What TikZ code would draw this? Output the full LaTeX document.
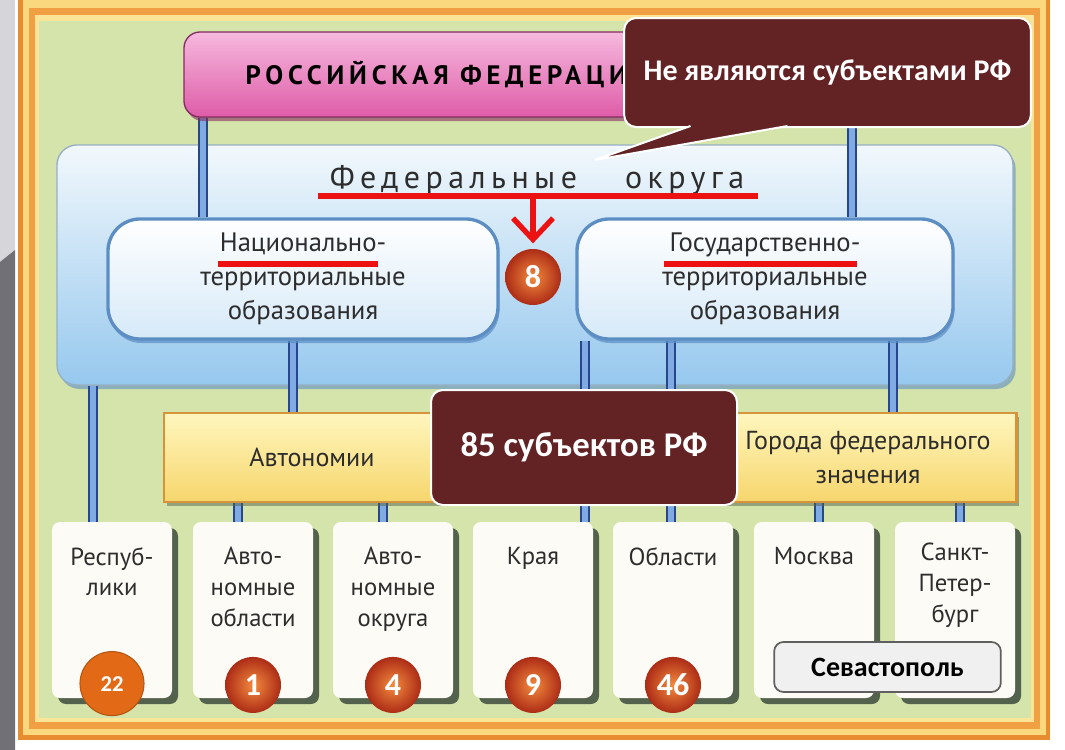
\documentclass[tikz,border=0pt]{standalone}
\usepackage{fontspec}
\setmainfont{PT Sans}
\newfontfamily\calibrifont{Carlito}
\newfontfamily\spacedfont[LetterSpace=17]{PT Sans}
\newfontfamily\titlefont[LetterSpace=18]{PT Sans}
\usetikzlibrary{positioning,shadows,arrows.meta,calc}
\pgfdeclarelayer{back}
\pgfdeclarelayer{rods}
\pgfsetlayers{back,rods,main}
\definecolor{stripgray}{RGB}{214,214,218}
\definecolor{stripdark}{RGB}{112,112,118}
\definecolor{framedark}{RGB}{232,140,48}
\definecolor{frameyel}{RGB}{250,216,125}
\definecolor{frameorg}{RGB}{240,160,66}
\definecolor{framepale}{RGB}{252,228,150}
\definecolor{fieldgreen}{RGB}{213,228,170}
\definecolor{pinktop}{RGB}{246,185,222}
\definecolor{pinkbot}{RGB}{222,92,168}
\definecolor{pinkline}{RGB}{130,45,95}
\definecolor{skytop}{RGB}{242,248,252}
\definecolor{skybot}{RGB}{150,200,238}
\definecolor{skyline}{RGB}{150,175,195}
\definecolor{capfill}{RGB}{214,233,248}
\definecolor{capline}{RGB}{92,142,196}
\definecolor{yeltop}{RGB}{255,246,190}
\definecolor{yelbot}{RGB}{246,214,108}
\definecolor{yelline}{RGB}{214,148,58}
\definecolor{cardfill}{RGB}{252,251,246}
\definecolor{cardshadow}{RGB}{82,98,76}
\definecolor{pillarline}{RGB}{40,70,140}
\definecolor{pillarfill}{RGB}{128,170,226}
\definecolor{maroon}{RGB}{99,35,37}
\definecolor{inkgray}{RGB}{45,45,45}
\definecolor{flatorange}{RGB}{226,106,22}
\definecolor{balllight}{RGB}{244,138,62}
\definecolor{balldark}{RGB}{172,44,22}
\definecolor{markred}{RGB}{236,18,18}
\definecolor{sevfill}{RGB}{240,240,240}
\definecolor{sevline}{RGB}{95,95,95}
\begin{document}
\begin{tikzpicture}[x=0.75pt,y=-0.75pt,
  pillar/.style={draw=pillarline, line width=1.8pt, double=pillarfill, double distance=4.5pt},
  pinkbox/.style={draw=pinkline, line width=1pt, rounded corners=12pt, top color=pinktop, bottom color=pinkbot,
    minimum width=514.5pt, minimum height=63.75pt, drop shadow={shadow xshift=2pt, shadow yshift=-3pt, fill=pinkline, opacity=0.6}},
  skybox/.style={draw=skyline, line width=1pt, rounded corners=15pt, top color=skytop, bottom color=skybot,
    minimum width=717pt, minimum height=180pt, drop shadow={shadow xshift=2pt, shadow yshift=-3pt, fill=capline, opacity=0.6}},
  capsule/.style={draw=capline, line width=2.5pt, rounded corners=24pt, top color=white, bottom color=capfill,
    minimum height=90pt, align=center, text=inkgray, font=\fontsize{20}{25.5}\selectfont,
    drop shadow={shadow xshift=1pt, shadow yshift=-3pt, fill=capline, opacity=0.7}},
  yelbox/.style={draw=yelline, line width=2pt, top color=yeltop, bottom color=yelbot, minimum height=66.75pt,
    align=center, text=inkgray, font=\fontsize{19.5}{25}\selectfont,
    drop shadow={shadow xshift=2pt, shadow yshift=-3pt, fill=cardshadow, opacity=0.5}},
  card/.style={fill=cardfill, rounded corners=6pt, minimum width=90pt, minimum height=132pt,
    drop shadow={shadow xshift=4.5pt, shadow yshift=-4.5pt, fill=cardshadow, opacity=1}},
  cardtext/.style={align=center, inner sep=0pt, text=inkgray, font=\fontsize{18.5}{23}\selectfont},
  ball/.style={circle, minimum size=42pt, inner sep=0pt, inner color=balllight, outer color=balldark,
    text=white, font=\calibrifont\bfseries\fontsize{24}{24}\selectfont},
  flatball/.style={circle, minimum size=48pt, inner sep=0pt, fill=flatorange, draw=flatorange!80!black,
    line width=0.8pt, text=white, font=\calibrifont\bfseries\fontsize{17}{17}\selectfont},
  note/.style={fill=maroon, draw=white, line width=1.5pt, rounded corners=9pt, text=white},
  notetail/.style={fill=maroon, draw=white, line width=1.5pt},
  sevbox/.style={fill=sevfill, draw=sevline, line width=1.3pt, rounded corners=7pt, minimum width=170pt,
    minimum height=37.5pt, text=black, font=\calibrifont\bfseries\fontsize{21}{21}\selectfont},
  redmark/.style={draw=markred, line width=4pt}]
\useasboundingbox (0,0) rectangle (1065,750);
\begin{pgfonlayer}{back}
\fill[white] (0,0) rectangle (1065,750);
\fill[stripgray] (0,0) rectangle (15,750);
\fill[stripdark] (0,262) -- (15,250) -- (15,750) -- (0,750) -- cycle;
\fill[framedark] (18,-5) rectangle (1050,740);
\fill[frameyel] (23,0) rectangle (1046,735);
\fill[frameorg] (29,8) rectangle (1040,729);
\fill[framepale] (35,15) rectangle (1034,722);
\fill[fieldgreen] (39,21) rectangle (1031,718);
\node[skybox] (fed) at (535,265) {};
\end{pgfonlayer}

\node[anchor=base, text=inkgray, font=\spacedfont\fontsize{24}{24}\selectfont] (fedtext) at (537,188) {Федеральные\hspace{36pt}округа};
\node[pinkbox] (rf) at (527,74.5) {};
\node[anchor=base west, text=black, font=\titlefont\bfseries\fontsize{20}{20}\selectfont] (rftitle) at (241,84) {РОССИЙСКАЯ ФЕДЕРАЦИЯ};

\node[capsule, minimum width=292.5pt] (nto) at (303,279) {Национально-\\территориальные\\образования};
\node[capsule, minimum width=282pt] (gto) at (765,279) {Государственно-\\территориальные\\образования};
\node[ball] (b8) at (533,277) {8};

\node[yelbox, minimum width=222pt] (auton) at (312,457.5) {Автономии};
\node[yelbox, minimum width=222.75pt] (cities) at (868,457.5) {Города федерального\\значения};

\node[card] (rep) at (112,610) {};
\node[card] (aobl) at (253,610) {};
\node[card] (aokr) at (393,610) {};
\node[card] (kray) at (533,610) {};
\node[card] (obl) at (673,610) {};
\node[card] (msk) at (814,610) {};
\node[card] (spb) at (955,610) {};

\node[cardtext, below=19pt of rep.north] {Респуб-\\лики};
\node[cardtext, below=19pt of aobl.north] {Авто-\\номные\\области};
\node[cardtext, below=19pt of aokr.north] {Авто-\\номные\\округа};
\node[cardtext, below=19pt of kray.north] {Края};
\node[cardtext, below=19pt of obl.north] {Области};
\node[cardtext, below=19pt of msk.north] {Москва};
\node[cardtext, below=16pt of spb.north] {Санкт-\\Петер-\\бург};

\node[flatball] (c22) at ([yshift=11pt]rep.south) {22};
\node[ball] (c1) at ([yshift=10pt]aobl.south) {1};
\node[ball] (c4) at ([yshift=10pt]aokr.south) {4};
\node[ball] (c9) at ([yshift=10pt]kray.south) {9};
\node[ball] (c46) at ([yshift=10pt]obl.south) {46};

\begin{pgfonlayer}{rods}
\draw[pillar] (rf.south -| 203,0) -- (nto.north -| 203,0);
\draw[pillar] (rf.south -| 852,0) -- (gto.north -| 852,0);
\draw[pillar] (fed.south -| 93,0) -- (rep.north -| 93,0);
\draw[pillar] (nto.south -| 293,0) -- (auton.north -| 293,0);
\draw[pillar] (auton.south -| 238,0) -- (aobl.north -| 238,0);
\draw[pillar] (auton.south -| 383,0) -- (aokr.north -| 383,0);
\draw[pillar] (gto.south -| 585,0) -- (kray.north -| 585,0);
\draw[pillar] (gto.south -| 671,0) -- (obl.north -| 671,0);
\draw[pillar] (gto.south -| 893,0) -- (cities.north -| 893,0);
\draw[pillar] (cities.south -| 819,0) -- (msk.north -| 819,0);
\draw[pillar] (cities.south -| 960,0) -- (spb.north -| 960,0);
\end{pgfonlayer}

\draw[redmark] (318,196) -- (758,196);
\coordinate (fedmid) at (533,196);
\draw[redmark, -{Straight Barb[length=16pt, width=30pt]}, shorten >=4pt] (fedmid) -- (b8.north);
\draw[redmark] (218,264) -- (378,264);
\draw[redmark] (664,264) -- (857,264);

\node[note, minimum width=305pt, minimum height=81.75pt, font=\calibrifont\bfseries\fontsize{22.5}{22.5}\selectfont] (note1) at (827.5,72.5) {Не являются субъектами РФ};
\coordinate (tip1) at (595,160);
\filldraw[notetail] ($(note1.south)+(-137,-2)$) -- (tip1) -- ($(note1.south)+(-40,-2)$);
\node[note, minimum width=229.5pt, minimum height=86.25pt, font=\calibrifont\bfseries\fontsize{26}{26}\selectfont] (note85) at (584,447.5) {85 субъектов РФ};
\node[sevbox] (sev) at (887.5,667) {Севастополь};
\end{tikzpicture}
\end{document}
